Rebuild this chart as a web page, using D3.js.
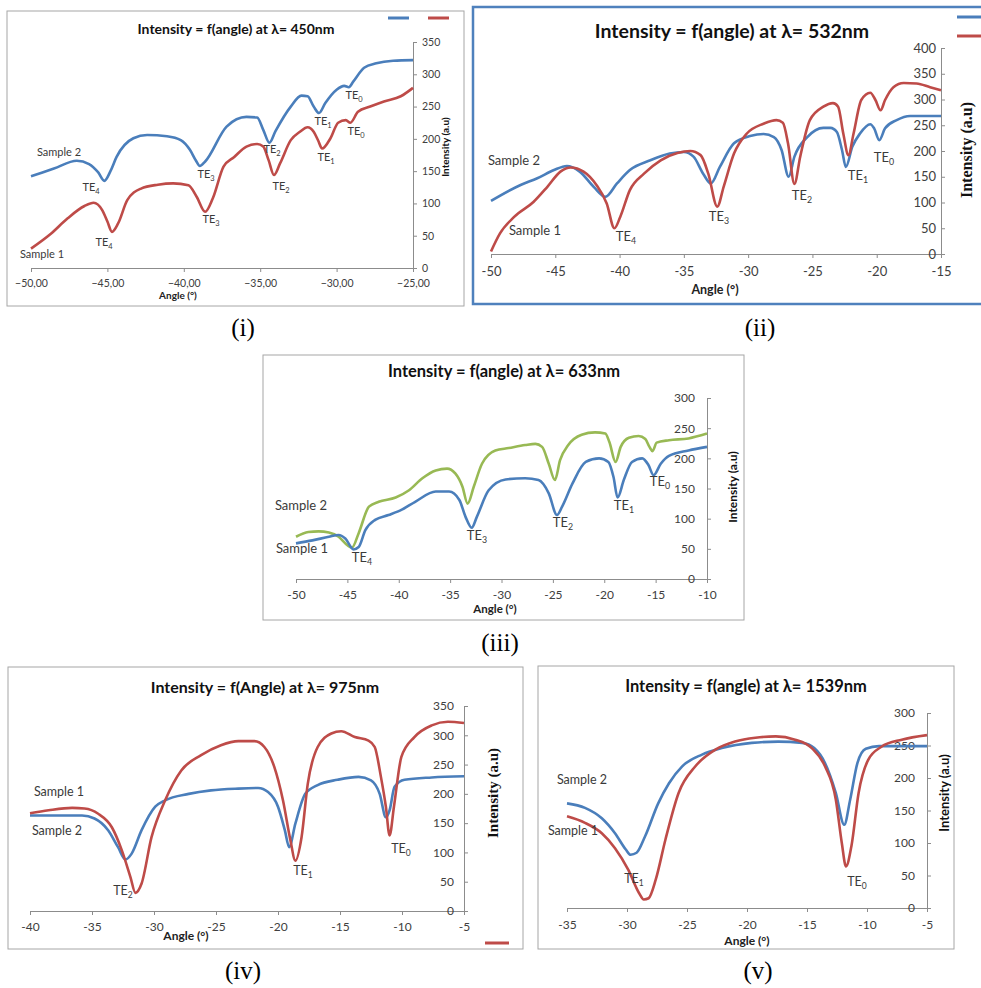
<!DOCTYPE html>
<html><head><meta charset="utf-8">
<script src="https://cdn.jsdelivr.net/npm/d3@7"></script>
<style>body{margin:0;background:#fff}svg{display:block}</style>
</head><body>
<script>
// ---------------- DATA ----------------
// (i) 450 nm
const p450_s2_angle = [-50,-48.5,-47,-46.2,-45.6,-45.2,-44.8,-44.4,-43.3,-42.4,-41.1,-40.2,-39.6,-39.2,-38.95,-38.6,-37.2,-35.9,-35.2,-34.8,-34.4,-34.0,-33.0,-32.3,-31.9,-31.5,-31.15,-30.75,-30.0,-29.5,-29.2,-28.9,-28.2,-27.4,-26.3,-25];
const p450_s2_int   = [142,154,166,161,148,135,150,172,201,206,204,198,183,166,158,165,219,234,233,214,194,212,250,267,266,250,240,255,276,282,280,289,310,317,321,322];
const p450_s1_angle = [-50,-48.7,-47.6,-46.5,-45.9,-45.35,-45.0,-44.7,-44.3,-43.7,-42.8,-41.7,-40.7,-39.7,-39.15,-38.6,-38.1,-37.4,-36.7,-35.9,-35.2,-34.8,-34.45,-34.1,-33.7,-33.0,-32.4,-31.9,-31.5,-31.2,-30.95,-30.4,-29.9,-29.4,-29.1,-28.6,-27.8,-26.9,-25.8,-25];
const p450_s1_int   = [30,53,77,96,101,90,72,56,69,105,123,129,131,128,110,87,108,157,172,188,192,188,167,144,162,198,211,218,211,197,185,201,225,229,225,242,250,258,266,279];
// (ii) 532 nm
const p532_s2_angle = [-50,-47.7,-46.4,-45.1,-44.1,-43.1,-42.0,-41.1,-40.2,-39.2,-37.6,-36.1,-35.0,-34.25,-33.5,-32.9,-32.2,-31.1,-29.85,-28.8,-28.0,-27.4,-26.85,-26.4,-25.4,-24.15,-23.6,-23.1,-22.7,-22.4,-21.9,-21.3,-20.5,-20.2,-19.8,-19.35,-18.45,-17.4,-15];
const p532_s2_int   = [103,134,147,163,171,160,130,111,137,163,182,195,198,189,156,137,169,215,229,233,227,202,150,189,227,245,245,237,202,169,208,234,252,244,221,244,260,268,268];
const p532_s1_angle = [-50,-49.3,-48.2,-46.7,-45.6,-44.6,-43.8,-42.8,-41.8,-41.0,-40.4,-39.95,-39.2,-38.1,-36.8,-35.5,-34.5,-33.7,-33.1,-32.4,-31.9,-31.1,-30.1,-28.8,-27.8,-27.3,-26.9,-26.4,-25.95,-25.2,-24.15,-23.4,-23.0,-22.6,-22.2,-21.8,-21.2,-20.5,-20.1,-19.7,-19.35,-18.7,-17.9,-16.9,-15.85,-15];
const p532_s1_int   = [5,40,72,101,131,160,168,160,134,98,50,72,124,156,182,196,200,192,156,92,131,195,234,253,260,255,215,136,189,260,286,293,286,234,192,234,299,313,299,279,299,324,332,331,324,318];
// (iii) 633 nm
const p633_s2_angle = [-50,-48.8,-47.8,-46.8,-45.85,-45.0,-44.55,-43.9,-42.9,-41.95,-40.3,-39.0,-37.7,-36.4,-35.3,-34.5,-33.8,-33.3,-32.7,-31.9,-30.6,-29.3,-27.7,-26.7,-26.05,-25.4,-24.8,-24.3,-23.5,-22.2,-20.9,-19.9,-19.5,-18.9,-18.4,-17.6,-16.65,-16.0,-15.6,-15.3,-14.9,-13.7,-11.8,-10];
const p633_s2_int   = [70,78,79,77,70,56,52,76,120,128,135,147,167,180,183,175,153,125,153,191,213,217,222,224,219,191,164,197,222,239,243,241,227,194,219,234,237,232,219,212,226,230,233,241];
const p633_s1_angle = [-50,-48.4,-46.8,-45.85,-45.2,-44.4,-43.9,-43.25,-42.3,-41.0,-39.7,-38.4,-36.4,-35.1,-34.1,-33.5,-32.9,-32.4,-31.25,-29.6,-27.7,-26.4,-25.4,-24.6,-24.1,-23.1,-21.8,-20.5,-19.6,-19.1,-18.7,-18.1,-17.3,-16.3,-15.7,-15.2,-14.5,-13.7,-11.8,-10];
const p633_s1_int   = [59,64,70,73,67,49,53,81,98,106,115,128,145,145,131,103,85,103,147,165,167,164,142,106,120,158,194,200,194,169,135,164,194,200,189,172,191,204,213,219];
// (iv) 975 nm
const p975_s1_angle = [-40,-38.5,-36.6,-35.6,-34.5,-33.4,-32.6,-31.9,-31.5,-31.0,-30.2,-29.1,-27.8,-26.2,-24.6,-23.2,-21.9,-21.1,-20.3,-19.6,-19.0,-18.6,-18.1,-17.6,-16.8,-15.7,-14.9,-13.8,-12.7,-12.2,-11.7,-11.3,-11.0,-10.65,-10.05,-9.0,-7.6,-6.3,-5];
const p975_s1_int   = [167,172,176,175,166,143,104,58,31,47,126,189,240,266,283,290,290,280,246,189,121,86,126,217,280,303,307,297,291,280,229,178,129,178,263,297,317,323,321];
const p975_s2_angle = [-40,-38,-35.8,-34.8,-33.7,-32.9,-32.3,-31.8,-31.0,-29.9,-29.1,-27.2,-25.4,-23.2,-21.6,-20.8,-20.0,-19.45,-19.1,-18.6,-17.8,-16.8,-15.2,-13.5,-12.5,-11.8,-11.3,-11.0,-10.6,-9.8,-7.6,-5];
const p975_s2_int   = [163,163,163,158,138,109,88,98,138,178,189,200,206,209,210,203,178,138,109,149,200,215,224,229,223,200,160,172,212,224,228,230];
// (v) 1539 nm
const p1539_s2_angle = [-35,-33.5,-32.1,-31.0,-30.1,-29.7,-29.2,-28.5,-27.4,-26.5,-25.4,-23.75,-22.1,-19.6,-17.4,-15.4,-14.4,-13.5,-12.6,-11.9,-11.4,-10.8,-10.1,-9.0,-5];
const p1539_s2_int   = [161,154,138,115,90,82,85,110,161,192,218,236,246,254,256,254,246,223,177,128,167,223,245,249,249];
const p1539_s1_angle = [-35,-33.5,-32.1,-31.0,-29.9,-29.0,-28.6,-28.2,-27.6,-26.8,-25.7,-24.3,-22.6,-21.0,-19.3,-17.6,-16.0,-14.6,-13.5,-12.6,-12.1,-11.75,-11.3,-10.7,-9.9,-8.8,-7.1,-5];
const p1539_s1_int   = [141,131,115,92,59,23,13,15,44,105,177,218,244,256,262,264,259,246,218,167,100,64,95,177,228,248,259,266];

// tick values / labels
const ticksX_450 = [-50,-45,-40,-35,-30,-25];
const ticksX_532 = [-50,-45,-40,-35,-30,-25,-20,-15];
const ticksX_633 = [-50,-45,-40,-35,-30,-25,-20,-15,-10];
const ticksX_975 = [-40,-35,-30,-25,-20,-15,-10,-5];
const ticksX_1539 = [-35,-30,-25,-20,-15,-10,-5];
const ticksY_350 = [0,50,100,150,200,250,300,350];
const ticksY_400 = [0,50,100,150,200,250,300,350,400];
const ticksY_300 = [0,50,100,150,200,250,300];
const titles = ["Intensity = f(angle) at λ= 450nm","Intensity = f(angle) at λ= 532nm","Intensity = f(angle) at λ= 633nm","Intensity = f(Angle) at λ= 975nm","Intensity = f(angle) at λ= 1539nm"];
const captions = ["(i)","(ii)","(iii)","(iv)","(v)"];

// ---------------- DRAWING ----------------
const BLUE="#4a7ebb", RED="#be4b48", GREEN="#98b954";
const SANS="Lato, 'Liberation Sans', Arial, sans-serif";
const SERIF="'Liberation Serif', 'Times New Roman', serif";
const W=981,H=988;
const svg=d3.select("body").append("svg").attr("width",W).attr("height",H);

function addLabel(g,x,y,text,size){
  const m=text.match(/^(TE)(\d)$/);
  const t=g.append("text").attr("x",x).attr("y",y).attr("font-size",size)
    .attr("text-anchor","middle").attr("dominant-baseline","middle")
    .attr("fill","#3a3a3a").attr("font-family",SANS);
  if(m){t.append("tspan").text(m[1]);t.append("tspan").attr("font-size",size*0.68).attr("dy",size*0.32).text(m[2]);}
  else t.text(text);
}

function panel(c){
  const g=svg.append("g");
  g.append("rect").attr("x",c.frame[0]).attr("y",c.frame[1]).attr("width",c.frame[2]).attr("height",c.frame[3])
    .attr("fill","#fff").attr("stroke",c.frameColor||"#a6a6a6").attr("stroke-width",c.frameWidth||1);
  const x=d3.scaleLinear().domain(c.xDomain).range(c.xRange);
  const y=d3.scaleLinear().domain(c.yDomain).range(c.yRange);
  const gx=g.append("g").attr("transform",`translate(0,${c.yRange[0]})`)
    .call(d3.axisBottom(x).tickValues(c.xTicks).tickFormat(c.xFmt||(d=>d)).tickSizeInner(4).tickSizeOuter(0));
  gx.selectAll("text").attr("y",c.xLabDy).attr("dy","0.35em").attr("font-size",c.tickSize).attr("font-family",SANS).attr("fill","#404040");
  const ya=(c.yLabSide==="right"?d3.axisRight(y):d3.axisLeft(y).tickSizeInner(-4)).tickValues(c.yTicks).tickSizeOuter(0).tickPadding(c.yPad);
  if(c.yLabSide==="right") ya.tickSizeInner(4);
  const gy=g.append("g").attr("transform",`translate(${c.xRange[1]},0)`).call(ya);
  gy.selectAll("text").attr("font-size",c.tickSize).attr("font-family",SANS).attr("fill","#404040");
  g.selectAll(".domain,.tick line").attr("stroke","#8c8c8c");
  g.append("text").attr("x",c.title[0]).attr("y",c.title[1]).attr("text-anchor","middle").attr("dominant-baseline","middle")
    .attr("font-family",SANS).attr("font-weight","bold").attr("font-size",c.title[2]).attr("fill","#111").text(c.titleText);
  g.append("text").attr("x",c.xTitle[0]).attr("y",c.xTitle[1]).attr("text-anchor","middle").attr("dominant-baseline","middle")
    .attr("font-family",SANS).attr("font-weight","bold").attr("font-size",c.xTitle[2]).attr("fill","#222").text("Angle (°)");
  g.append("text").attr("transform",`translate(${c.yTitle[0]},${c.yTitle[1]}) rotate(-90)`).attr("text-anchor","middle").attr("dominant-baseline","middle")
    .attr("font-family",c.yTitle[3]==="serif"?SERIF:SANS).attr("font-weight","bold").attr("font-size",c.yTitle[2]).attr("fill","#111").text("Intensity (a.u)");
  const line=d3.line().x(d=>x(d[0])).y(d=>y(d[1])).curve(d3.curveMonotoneX);
  c.series.forEach(s=>{
    const pts=s.a.map((a,i)=>[a,s.v[i]]);
    g.append("path").datum(pts).attr("d",line).attr("fill","none").attr("stroke",s.color).attr("stroke-width",2.6).attr("stroke-linejoin","round");
  });
  (c.legend||[]).forEach(l=>{
    g.append("line").attr("x1",l[0]).attr("x2",l[1]).attr("y1",l[2]).attr("y2",l[2]).attr("stroke",l[3]).attr("stroke-width",3);
  });
  c.labels.forEach(l=>addLabel(g,l[0],l[1],l[2],c.labSize));
}

panel({frame:[7,11,457,295],xDomain:[-50,-25],xRange:[31,413],yDomain:[0,350],yRange:[268,42],
  xTicks:ticksX_450,xFmt:d=>d3.format(".2f")(d).replace(".",","),yTicks:ticksY_350,yLabSide:"right",yPad:5,
  tickSize:10.5,xLabDy:15,title:[236,30,14],titleText:titles[0],xTitle:[178,296,10],yTitle:[446,147,10,"sans"],
  series:[{a:p450_s2_angle,v:p450_s2_int,color:BLUE},{a:p450_s1_angle,v:p450_s1_int,color:RED}],
  legend:[[388,409,18,BLUE],[428,449,18,RED]],labSize:11,
  labels:[[59,153,"Sample 2"],[42,255,"Sample 1"],[91,188,"TE4"],[104,243,"TE4"],[206,175,"TE3"],[211,220,"TE3"],
    [272,150,"TE2"],[281,187,"TE2"],[323,122,"TE1"],[326,158,"TE1"],[354,96,"TE0"],[356,132,"TE0"]]});

panel({frame:[473,7,520,297],frameColor:"#4f81bd",frameWidth:2.5,xDomain:[-50,-15],xRange:[491,941],yDomain:[0,400],yRange:[254,48],
  xTicks:ticksX_532,yTicks:ticksY_400,yLabSide:"left",yPad:5,
  tickSize:13,xLabDy:17,title:[732,33,19.5],titleText:titles[1],xTitle:[715,291,12.5],yTitle:[968,150,16,"serif"],
  series:[{a:p532_s2_angle,v:p532_s2_int,color:BLUE},{a:p532_s1_angle,v:p532_s1_int,color:RED}],
  legend:[[957,985,17,BLUE],[957,985,36,RED]],labSize:13,
  labels:[[514,162,"Sample 2"],[535,232,"Sample 1"],[626,238,"TE4"],[719,218,"TE3"],[802,197,"TE2"],[858,177,"TE1"],[884,159,"TE0"]]});

panel({frame:[263,355,481,265],xDomain:[-50,-10],xRange:[296,707],yDomain:[0,300],yRange:[579,398],
  xTicks:ticksX_633,yTicks:ticksY_300,yLabSide:"left",yPad:12,
  tickSize:12,xLabDy:15.5,title:[504,373,16.5],titleText:titles[2],xTitle:[495,610.5,11.5],yTitle:[734,487,12,"sans"],
  series:[{a:p633_s2_angle,v:p633_s2_int,color:GREEN},{a:p633_s1_angle,v:p633_s1_int,color:BLUE}],
  labSize:13,
  labels:[[301,507,"Sample 2"],[302,550,"Sample 1"],[362,559,"TE4"],[477,537,"TE3"],[563,524,"TE2"],[624,507,"TE1"],[660,483,"TE0"]]});

panel({frame:[8,667,515,282],xDomain:[-40,-5],xRange:[30,464],yDomain:[0,350],yRange:[911,706],
  xTicks:ticksX_975,yTicks:ticksY_350,yLabSide:"left",yPad:10,
  tickSize:12,xLabDy:16,title:[265,689,16],titleText:titles[3],xTitle:[186,937,12],yTitle:[495,793,15,"serif"],
  series:[{a:p975_s2_angle,v:p975_s2_int,color:BLUE},{a:p975_s1_angle,v:p975_s1_int,color:RED}],
  legend:[[485,509,943,RED]],labSize:12.5,
  labels:[[59,793,"Sample 1"],[57,832,"Sample 2"],[123,892,"TE2"],[303,872,"TE1"],[401,850,"TE0"]]});

panel({frame:[538,666,416,283],xDomain:[-35,-5],xRange:[567,927],yDomain:[0,300],yRange:[908,713],
  xTicks:ticksX_1539,yTicks:ticksY_300,yLabSide:"left",yPad:12,
  tickSize:12,xLabDy:17,title:[746,688,16.5],titleText:titles[4],xTitle:[747,942,12],yTitle:[946,793,13,"sans"],
  series:[{a:p1539_s2_angle,v:p1539_s2_int,color:BLUE},{a:p1539_s1_angle,v:p1539_s1_int,color:RED}],
  labSize:12.5,
  labels:[[582,781,"Sample 2"],[573,832,"Sample 1"],[634,880,"TE1"],[857,883,"TE0"]]});

[[243,330],[760,330],[500,645],[243,973],[758,973]].forEach((p,i)=>{
  svg.append("text").attr("x",p[0]).attr("y",p[1]).attr("text-anchor","middle").attr("dominant-baseline","middle")
    .attr("font-family",SERIF).attr("font-size",25).attr("fill","#000").text(captions[i]);
});
</script>
</body></html>
